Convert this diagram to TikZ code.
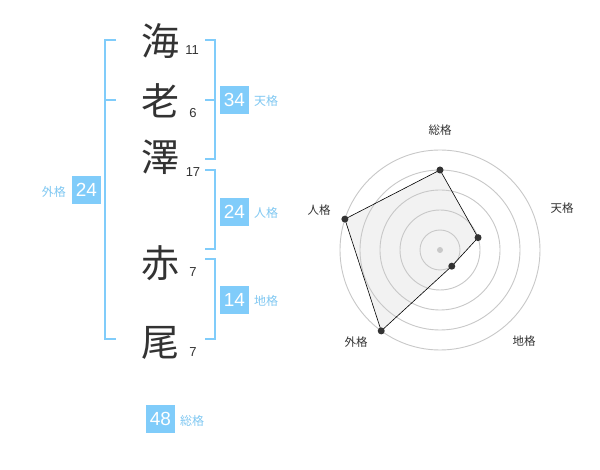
\documentclass[tikz,border=0pt]{standalone}
\usepackage{fontspec}
\setmainfont{Noto Sans CJK JP}
\newfontfamily\numfont{Liberation Sans}
\definecolor{boxblue}{HTML}{80CCFA}
\definecolor{lblblue}{HTML}{80C8F2}
\definecolor{ink}{HTML}{333333}
\definecolor{ring}{HTML}{C8C8C8}
\definecolor{area}{HTML}{F2F2F2}
\tikzset{
  kanji/.style={font=\fontsize{38}{38}\selectfont, text=ink, inner sep=0pt},
  stroke/.style={font=\numfont\fontsize{13}{13}\selectfont, text=ink, inner sep=0pt},
  valbox/.style={fill=boxblue, text=white, font=\numfont\fontsize{19}{19}\selectfont, minimum width=29pt, minimum height=28pt, inner sep=0pt},
  kaku/.style={text=lblblue, font=\fontsize{12}{12}\selectfont, inner sep=0pt},
  brk/.style={draw=boxblue, line width=1.8pt},
  axlbl/.style={text=ink, font=\fontsize{11.5}{11.5}\selectfont, inner sep=0pt},
  dot/.style={circle, fill=ink, inner sep=0pt, minimum size=7pt},
}
\begin{document}
\begin{tikzpicture}[x=1pt,y=-1pt]
\useasboundingbox (0,0) rectangle (600,470);
\fill[white] (0,0) rectangle (600,470);
% kanji
\node[kanji] (k1) at (160,41) {海};
\node[kanji] (k2) at (160,101) {老};
\node[kanji] (k3) at (160,157) {澤};
\node[kanji] (k4) at (160,263) {赤};
\node[kanji] (k5) at (160,343) {尾};
\node[stroke] (s1) at (192,50) {11};
\node[stroke] (s2) at (193,113) {6};
\node[stroke] (s3) at (193,172) {17};
\node[stroke] (s4) at (193,272) {7};
\node[stroke] (s5) at (193,352) {7};
% brackets
\draw[brk] (116,40) -- (105,40) -- (105,339) -- (116,339);
\draw[brk] (105,100) -- (116,100);
\draw[brk] (205,40) -- (215,40) -- (215,159) -- (205,159);
\draw[brk] (205,100) -- (215,100);
\draw[brk] (205,170) -- (215,170) -- (215,249) -- (205,249);
\draw[brk] (205,259) -- (215,259) -- (215,339) -- (205,339);
% value boxes
\node[valbox] (b34) at (234.5,100) {34};
\node[kaku, anchor=west] (t34) at (254,101) {天格};
\node[valbox] (b24a) at (234.5,212) {24};
\node[kaku, anchor=west] (t24a) at (254,213) {人格};
\node[valbox] (b14) at (234.5,300) {14};
\node[kaku, anchor=west] (t14) at (254,301) {地格};
\node[valbox] (b24b) at (86.5,190) {24};
\node[kaku, anchor=east] (t24b) at (66,192) {外格};
\node[valbox] (b48) at (160.5,419) {48};
\node[kaku, anchor=west] (t48) at (180,421) {総格};
% radar chart
\coordinate (c) at (440,250);
\path (c) ++(0,-80) coordinate (pa);
\path (c) ++(38.04,-12.36) coordinate (pb);
\path (c) ++(11.76,16.18) coordinate (pc);
\path (c) ++(-58.78,80.90) coordinate (pd);
\path (c) ++(-95.11,-30.90) coordinate (pe);
\fill[area] (pa) -- (pb) -- (pc) -- (pd) -- (pe) -- cycle;
\foreach \r in {20,40,60,80,100} \draw[ring, line width=0.9pt] (c) circle[radius=\r];
\draw[draw=black, line width=0.6pt] (pa) -- (pb) -- (pc) -- (pd) -- (pe) -- cycle;
\foreach \p in {pa,pb,pc,pd,pe} \node[dot] at (\p) {};
\node[circle, fill=ring, inner sep=0pt, minimum size=6pt] (ctr) at (c) {};
\node[axlbl] (a1) at (440,130.5) {総格};
\node[axlbl] (a2) at (562,208.5) {天格};
\node[axlbl] (a3) at (524,341) {地格};
\node[axlbl] (a4) at (356,342) {外格};
\node[axlbl] (a5) at (319,210) {人格};
\end{tikzpicture}
\end{document}
